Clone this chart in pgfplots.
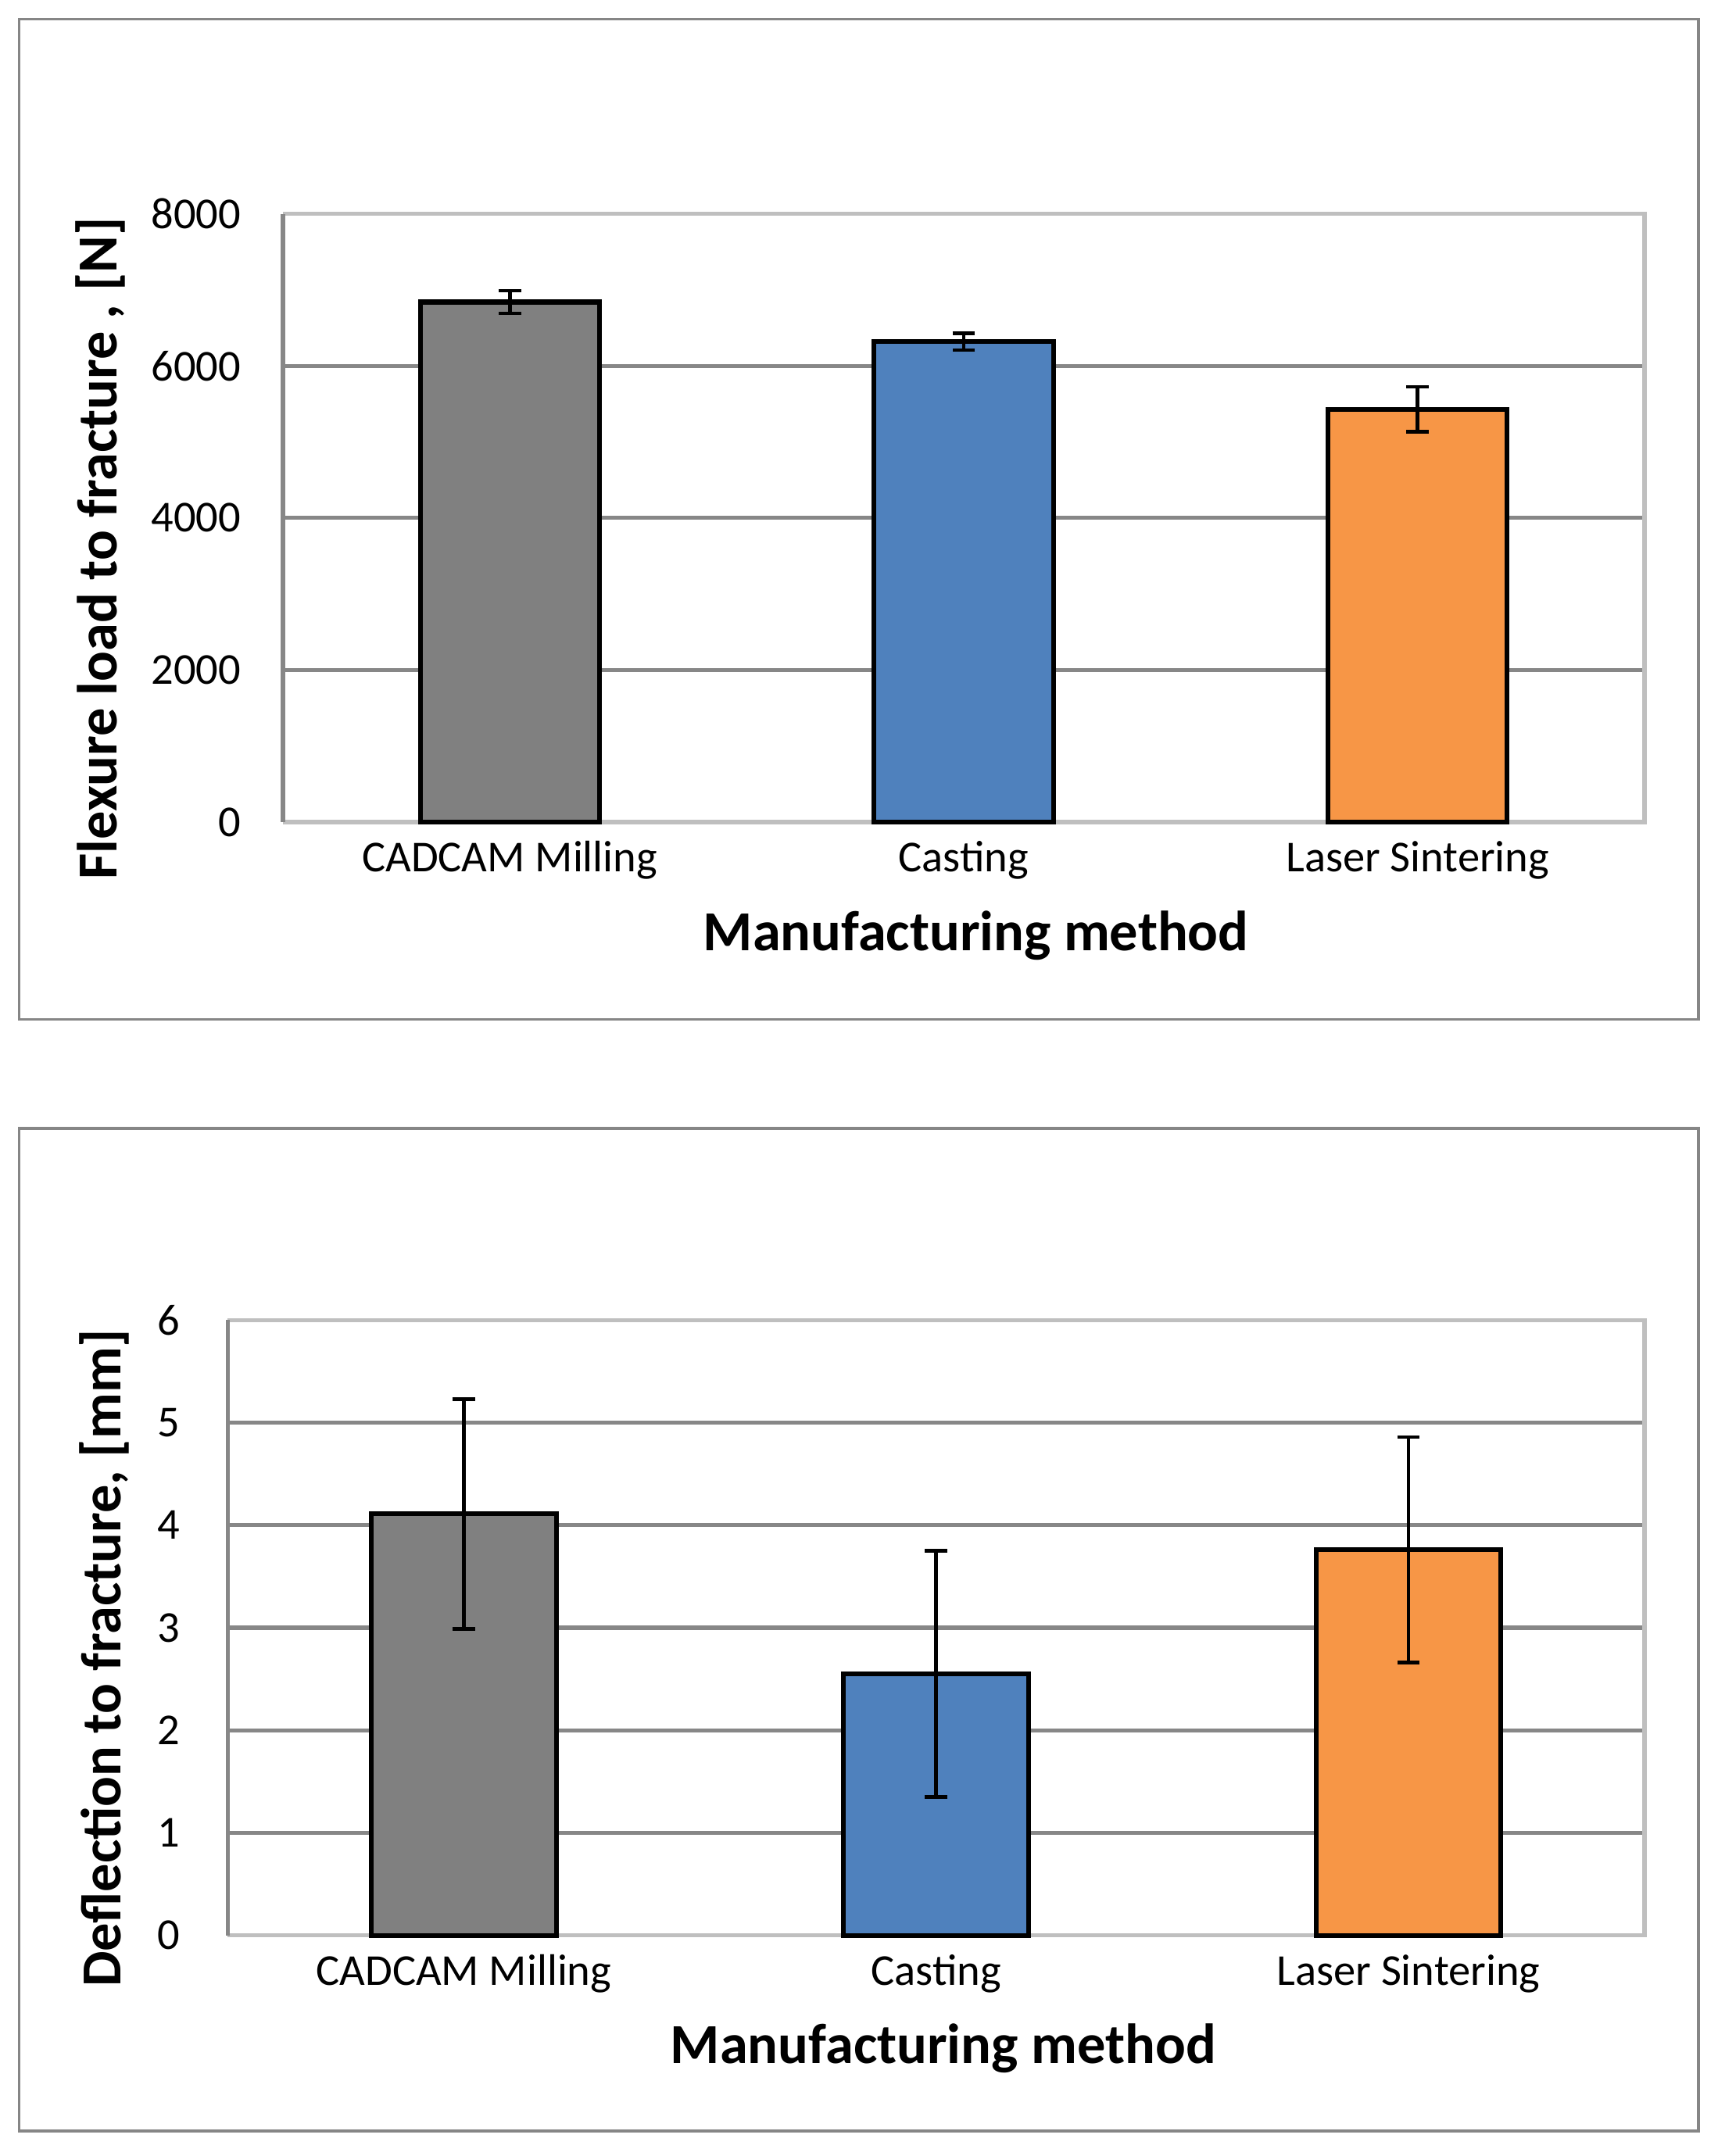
\documentclass[border=0pt]{standalone}
\usepackage{fontspec}
\setmainfont{Carlito}
\usepackage{pgfplots}
\pgfplotsset{compat=1.18}
\definecolor{gridgray}{HTML}{878787}
\definecolor{boxgray}{HTML}{BFBFBF}
\definecolor{framegray}{HTML}{868686}
\definecolor{bargray}{HTML}{808080}
\definecolor{barblue}{HTML}{4F81BD}
\definecolor{barorange}{HTML}{F79646}
\newcommand{\labfont}{\bfseries\fontsize{20.5}{24}\selectfont}
\pgfplotsset{
  mybar/.style={
    scale only axis,
    axis line style={draw=none},
    xmin=-0.5, xmax=2.5, ymin=0,
    xtick={0,1,2},
    xticklabels={CADCAM Milling,Casting,Laser Sintering},
    major tick length=0pt,
    ymajorgrids,
    grid style={gridgray, line width=1.5pt},
    tick label style={font=\fontsize{16}{19}\selectfont},
    /pgf/number format/assume math mode=true,
    /pgf/number format/1000 sep={},
    scaled y ticks=false,
    xticklabel style={anchor=base, yshift=-18pt},
    clip=false,
  },
  mybarplot/.style={
    ybar, bar shift=0pt, draw=black, line width=1.7pt,
    /pgfplots/error bars/y dir=both,
    /pgfplots/error bars/y explicit,
    /pgfplots/error bars/error bar style={line width=1.3pt, black},
    /pgfplots/error bars/error mark options={rotate=90, mark size=4.1pt, line width=1.3pt, black},
  },
}
\begin{document}
\begin{tikzpicture}
\path (0pt,0pt) rectangle (622.5pt,-781.5pt);
\draw[framegray, line width=1pt] (7pt,-7pt) rectangle (615.5pt,-369.5pt);
\draw[framegray, line width=1pt] (7pt,-409pt) rectangle (615.5pt,-772.5pt);

\begin{axis}[mybar,
  at={(102.5pt,-298pt)}, anchor=south west,
  width=493.5pt, height=220.5pt,
  ymax=8000, ytick={0,2000,4000,6000,8000},
  yticklabel style={anchor=east, inner sep=0pt, xshift=-15pt},
  ylabel={Flexure load to fracture , [N]},
  every axis y label/.style={at={(axis description cs:-0.134,0.45)}, rotate=90, anchor=center, font=\labfont},
  xlabel={Manufacturing method},
  every axis x label/.style={at={(axis description cs:0.509,0)}, anchor=center, yshift=-41pt, font=\labfont},
]
\draw[boxgray, line width=1.5pt] (rel axis cs:0,0) -- (rel axis cs:1,0) -- (rel axis cs:1,1) -- (rel axis cs:0,1);
\draw[gridgray, line width=1.5pt] (rel axis cs:0,0) -- (rel axis cs:0,1);
\addplot[mybarplot, fill=bargray, bar width=65pt] coordinates {(0,6840) +- (0,150)};
\addplot[mybarplot, fill=barblue, bar width=65pt] coordinates {(1,6320) +- (0,110)};
\addplot[mybarplot, fill=barorange, bar width=65pt] coordinates {(2,5430) +- (0,295)};
\end{axis}

\begin{axis}[mybar,
  at={(82.5pt,-701.5pt)}, anchor=south west,
  width=513.5pt, height=223pt,
  ymax=6, ytick={0,1,2,3,4,5,6},
  yticklabel style={anchor=east, inner sep=0pt, xshift=-17pt},
  ylabel={Deflection to fracture, [mm]},
  every axis y label/.style={at={(axis description cs:-0.087,0.451)}, rotate=90, anchor=center, font=\labfont},
  xlabel={Manufacturing method},
  every axis x label/.style={at={(axis description cs:0.505,0)}, anchor=center, yshift=-41pt, font=\labfont},
]
\draw[boxgray, line width=1.5pt] (rel axis cs:0,0) -- (rel axis cs:1,0) -- (rel axis cs:1,1) -- (rel axis cs:0,1);
\draw[gridgray, line width=1.5pt] (rel axis cs:0,0) -- (rel axis cs:0,1);
\addplot[mybarplot, fill=bargray, bar width=67pt] coordinates {(0,4.11) +- (0,1.12)};
\addplot[mybarplot, fill=barblue, bar width=67pt] coordinates {(1,2.55) +- (0,1.2)};
\addplot[mybarplot, fill=barorange, bar width=67pt] coordinates {(2,3.76) +- (0,1.1)};
\end{axis}
\end{tikzpicture}
\end{document}
